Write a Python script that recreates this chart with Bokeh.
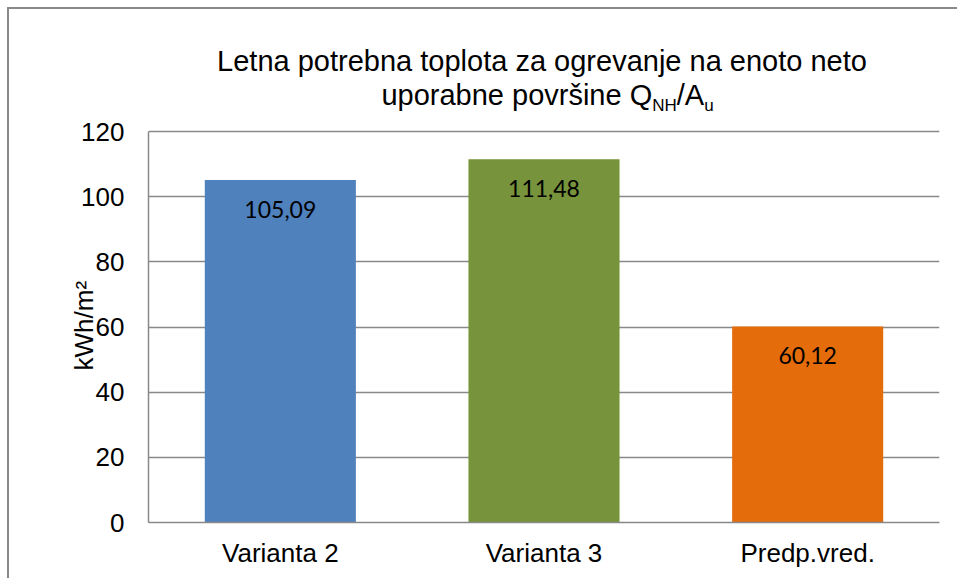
from bokeh.plotting import figure
from bokeh.models import Range1d, FactorRange, FixedTicker, Label, Title, ColumnDataSource
from bokeh.core.properties import value
from bokeh.embed import file_html
from bokeh.resources import INLINE

# ---- data ----
categories = ["Varianta 2", "Varianta 3", "Predp.vred."]
values = [105.09, 111.48, 60.12]
value_labels = ["105,09", "111,48", "60,12"]
bar_colors = ["#4F81BD", "#77933C", "#E46C0A"]
y_ticks = [0, 20, 40, 60, 80, 100, 120]
title_line1 = "Letna potrebna toplota za ogrevanje na enoto neto"
title_line2_parts = [("uporabne površine Q", False), ("NH", True), ("/A", False), ("u", True)]
y_label = "kWh/m²"

GRAY = "#898989"
FONT = "Liberation Sans"

source = ColumnDataSource(dict(x=categories, top=values, label=value_labels, color=bar_colors))

# frame reaches up to the top of the canvas so the title can be drawn inside it;
# the y axis line is bounded to 0..120
Y_TOP = 120 * 513 / 391
p = figure(
    x_range=FactorRange(*categories, range_padding=0),
    y_range=Range1d(0, Y_TOP),
    frame_width=791, frame_height=513,
    min_border_left=139, min_border_right=18, min_border_top=0, min_border_bottom=56,
    output_backend="svg", toolbar_location=None,
)
p.styles = {"border-top": "2px solid " + GRAY, "border-left": "2px solid " + GRAY,
            "margin-left": "7px", "margin-top": "7px"}
p.outline_line_color = None
p.background_fill_color = "white"
p.border_fill_color = "white"

p.vbar(x="x", top="top", width=0.573, color="color", line_color=None, source=source)
p.text(x="x", y="top", text="label", source=source, text_align="center",
       text_baseline="middle", y_offset=29, text_font=value("Lato"),
       text_font_size="23px", text_color="black")

# axes
p.yaxis.ticker = FixedTicker(ticks=y_ticks)
p.ygrid.ticker = FixedTicker(ticks=y_ticks)
p.yaxis.bounds = (y_ticks[0], y_ticks[-1])
for ax in (p.xaxis, p.yaxis):
    ax.axis_line_color = GRAY
    ax.axis_line_width = 1.5
    ax.major_tick_line_color = None
    ax.minor_tick_line_color = None
    ax.major_label_text_font = FONT
    ax.major_label_text_font_size = "26px"
    ax.major_label_text_color = "black"
p.xaxis.major_label_standoff = 9
p.yaxis.major_label_standoff = 18
p.xgrid.visible = False
p.ygrid.grid_line_color = GRAY
p.ygrid.grid_line_width = 1.5

# y-axis title, placed along the 0..120 part of the axis (offset from the frame bottom)
ytitle = Title(text=y_label, align="left", offset=152, standoff=12,
               text_font=FONT, text_font_size="26px", text_font_style="normal",
               text_color="black")
try:
    ytitle.standoff = -40
except Exception:
    ytitle.standoff = 12
p.add_layout(ytitle, "left")

# chart title (with subscripts); screen units from the frame's bottom-left corner
ARIAL_W = {"u": 556, "p": 556, "o": 556, "r": 333, "a": 556, "b": 556, "n": 556, "e": 556,
           "v": 500, "š": 500, "i": 222, " ": 278, "Q": 778, "N": 722, "H": 722, "/": 278, "A": 667}
MAIN, SUB = 29, 17
def tw(s, size):
    return sum(ARIAL_W.get(c, 556) for c in s) * size / 1000.0

p.add_layout(Label(x=393.5, y=462, x_units="screen", y_units="screen", text=title_line1,
                   text_align="center", text_baseline="alphabetic",
                   text_font=FONT, text_font_size=f"{MAIN}px", text_color="black"))
widths = [tw(s, SUB if sub else MAIN) for s, sub in title_line2_parts]
start = 399 - sum(widths) / 2
for (s, sub), w in zip(title_line2_parts, widths):
    p.add_layout(Label(x=start, y=428 - (11 if sub else 0), x_units="screen", y_units="screen",
                       text=s, text_align="left", text_baseline="alphabetic", text_font=FONT,
                       text_font_size=f"{SUB if sub else MAIN}px", text_color="black"))
    start += w

open("out.html", "w").write(file_html(p, INLINE))
